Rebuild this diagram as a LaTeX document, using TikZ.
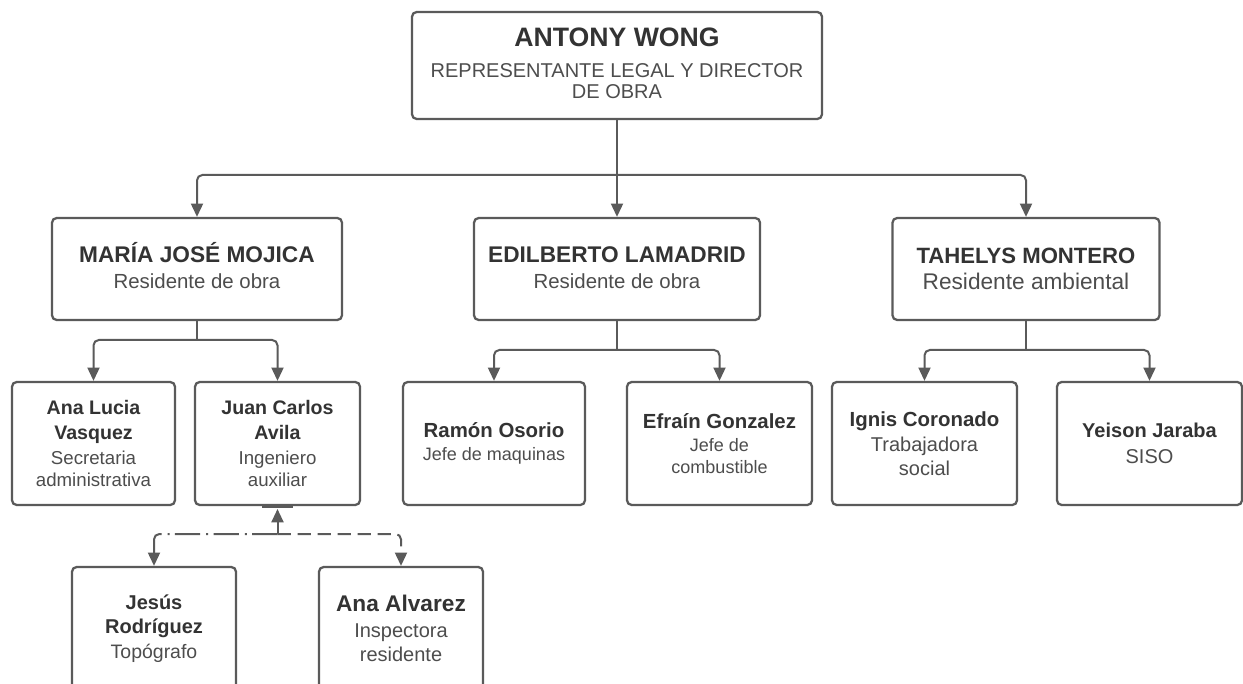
\documentclass[tikz,border=0pt]{standalone}
\usepackage{fontspec}
\setmainfont{Liberation Sans}
\usetikzlibrary{arrows.meta}
\definecolor{linec}{HTML}{5A5A5A}
\definecolor{namec}{HTML}{333333}
\definecolor{subc}{HTML}{4D4D4D}
\newcommand{\NM}[2]{{\fontsize{#1}{#1}\selectfont\bfseries\color{namec}#2}}
\tikzset{
  box/.style={draw=linec, line width=1.7pt, rounded corners=3.5pt, fill=white,
    align=center, text=subc, inner sep=2pt},
  conn/.style={draw=linec, line width=1.5pt, rounded corners=4pt,
    -{Triangle[length=10pt,width=9pt]}},
  link/.style={draw=linec, line width=1.5pt, rounded corners=4pt},
  dashdotline/.style={dash pattern=on 19pt off 4pt on 1.5pt off 4.5pt},
  dashline/.style={dash pattern=on 10pt off 5pt},
}
\begin{document}
\begin{tikzpicture}[x=0.75pt,y=-0.75pt]
\useasboundingbox[fill=white] (0,0) rectangle (1243,684);
% level 1
\node[box, minimum width=307.5pt, minimum height=80.25pt,
  font=\fontsize{15}{15.3}\selectfont] (top) at (617,65.5)
  {\NM{20}{ANTONY WONG}\\[8.5pt]REPRESENTANTE LEGAL Y DIRECTOR\\DE OBRA\rule[-4pt]{0pt}{0pt}};
% level 2
\node[box, minimum width=217.5pt, minimum height=76.5pt,
  font=\fontsize{15.3}{15.3}\selectfont] (maria) at (197,269)
  {\NM{17}{MARÍA JOSÉ MOJICA}\\[4pt]Residente de obra\rule[-5pt]{0pt}{0pt}};
\node[box, minimum width=214.5pt, minimum height=76.5pt,
  font=\fontsize{15.3}{15.3}\selectfont] (edil) at (617,269)
  {\NM{17}{EDILBERTO LAMADRID}\\[4pt]Residente de obra\rule[-2pt]{0pt}{0pt}};
\node[box, minimum width=200.25pt, minimum height=76.5pt,
  font=\fontsize{17}{17}\selectfont] (tah) at (1026,269)
  {\NM{16.6}{TAHELYS MONTERO}\\[3pt]Residente ambiental};
% level 3
\node[box, minimum width=122.25pt, minimum height=92.25pt,
  font=\fontsize{14}{16.5}\selectfont] (ana) at (93.5,443.5)
  {\NM{14.7}{Ana Lucia}\\[2.5pt]\NM{14.7}{Vasquez}\\[2.5pt]Secretaria\\administrativa};
\node[box, minimum width=123.75pt, minimum height=92.25pt,
  font=\fontsize{14}{16.5}\selectfont] (jca) at (277.5,443.5)
  {\NM{14.7}{Juan Carlos}\\[2.5pt]\NM{14.7}{Avila}\\[2.5pt]Ingeniero\\auxiliar};
\node[box, minimum width=136.5pt, minimum height=92.25pt,
  font=\fontsize{13.5}{16}\selectfont] (ramon) at (494,443.5)
  {\NM{15.3}{Ramón Osorio}\\[1pt]Jefe de maquinas};
\node[box, minimum width=138.75pt, minimum height=92.25pt,
  font=\fontsize{13.5}{16.5}\selectfont] (efrain) at (719.5,443.5)
  {\NM{15.3}{Efraín Gonzalez}\\[1pt]Jefe de\\combustible};
\node[box, minimum width=138.75pt, minimum height=92.25pt,
  font=\fontsize{15}{18}\selectfont] (ignis) at (924.5,443.5)
  {\NM{15.3}{Ignis Coronado}\\[1pt]Trabajadora\\social};
\node[box, minimum width=138.75pt, minimum height=92.25pt,
  font=\fontsize{15}{18}\selectfont] (yeison) at (1149.5,443.5)
  {\NM{15}{Yeison Jaraba}\\[1pt]SISO};
% level 4
\node[box, minimum width=123pt, minimum height=92.25pt,
  font=\fontsize{14.6}{18.5}\selectfont] (jes) at (154,628.5)
  {\NM{15}{Jesús}\\[0pt]\NM{15}{Rodríguez}\\[0pt]Topógrafo};
\node[box, minimum width=123pt, minimum height=92.25pt,
  font=\fontsize{15}{18}\selectfont] (alv) at (401,628.5)
  {\NM{17}{Ana Alvarez}\\[1pt]Inspectora\\residente};
% junctions
\coordinate (j1) at (617,175);
\coordinate (j2) at (197,340);
\coordinate (j3) at (617,350);
\coordinate (j4) at (1026,350);
\coordinate (j5) at (277.5,534);
\coordinate (bar) at (277.5,509);
% connectors
\draw[link] (top.south) -- (j1);
\draw[conn] (j1) -| (maria.north);
\draw[conn] (j1) -- (edil.north);
\draw[conn] (j1) -| (tah.north);
\draw[link] (maria.south) -- (j2);
\draw[conn] (j2) -| (ana.north);
\draw[conn] (j2) -| (jca.north);
\draw[link] (edil.south) -- (j3);
\draw[conn] (j3) -| (ramon.north);
\draw[conn] (j3) -| (efrain.north);
\draw[link] (tah.south) -- (j4);
\draw[conn] (j4) -| (ignis.north);
\draw[conn] (j4) -| (yeison.north);
% dashed links under Juan Carlos Avila
\draw[line width=2.4pt, linec] ([xshift=-11.5pt]jca.south) -- ([xshift=11.5pt]jca.south);
\draw[conn] (j5) -- (bar);
\draw[conn, dashdotline] (j5) -| (jes.north);
\draw[conn, dashline] (j5) -| (alv.north);
\end{tikzpicture}
\end{document}
